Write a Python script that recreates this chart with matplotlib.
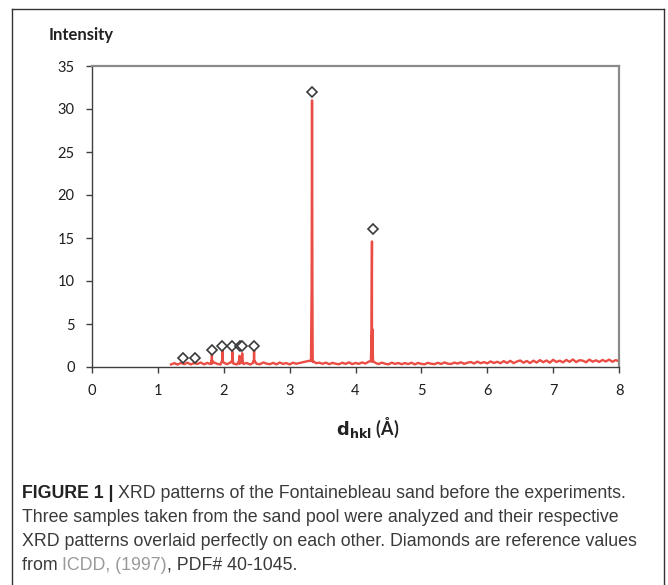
import numpy as np
import matplotlib
matplotlib.use("Agg")
import matplotlib.pyplot as plt
from matplotlib.lines import Line2D

# ---------------- data ----------------
# measured pattern: baseline sampled from d = 1.20 to 8.00 Å (step 0.05 Å)
base_start = 1.20
base_step = 0.05
baseline_I = [
    0.30, 0.45, 0.28, 0.48, 0.33, 0.50, 0.30, 0.46, 0.36, 0.52, 0.31,
    0.47, 0.34, 0.53, 0.37, 0.29, 0.49, 0.33, 0.52, 0.38, 0.30,
    0.51, 0.35, 0.47, 0.29, 0.49, 0.37, 0.32, 0.53, 0.39, 0.33,
    0.48, 0.31, 0.52, 0.36, 0.46, 0.30, 0.50, 0.38, 0.47, 0.56,
    0.64, 0.72, 0.58, 0.44, 0.50, 0.37, 0.51, 0.33, 0.48, 0.38,
    0.32, 0.50, 0.36, 0.54, 0.33, 0.47, 0.37, 0.53, 0.40, 0.62,
    0.60, 0.49, 0.34, 0.51, 0.38, 0.31, 0.50, 0.36, 0.47, 0.32,
    0.46, 0.34, 0.50, 0.30, 0.48, 0.36, 0.32, 0.49, 0.37, 0.34,
    0.49, 0.35, 0.53, 0.39, 0.35, 0.51, 0.40, 0.55, 0.37, 0.50,
    0.58, 0.41, 0.62, 0.44, 0.57, 0.42, 0.65, 0.46, 0.61, 0.44,
    0.68, 0.47, 0.72, 0.45, 0.64, 0.76, 0.50, 0.70, 0.46, 0.74,
    0.52, 0.80, 0.56, 0.76, 0.50, 0.84, 0.58, 0.74, 0.54, 0.82,
    0.60, 0.88, 0.57, 0.79, 0.74, 0.55, 0.86, 0.62, 0.78, 0.59,
    0.82, 0.64, 0.86, 0.61, 0.80, 0.66,
]
# measured peaks (d in Å, intensity)
peak_d = [1.82, 1.98, 2.13, 2.24, 2.28, 2.46, 3.34, 4.25]
peak_I = [1.4, 2.0, 1.8, 1.3, 1.6, 2.0, 31.0, 14.6]

# ICDD reference values (diamonds)
ref_d = [1.38, 1.56, 1.82, 1.98, 2.13, 2.24, 2.28, 2.46, 3.34, 4.26]
ref_I = [1.0, 1.0, 2.0, 2.4, 2.4, 2.4, 2.4, 2.4, 32.0, 16.0]

x_ticks = [0, 1, 2, 3, 4, 5, 6, 7, 8]
y_ticks = [0, 5, 10, 15, 20, 25, 30, 35]

caption_lines = [
    [("FIGURE 1 | ", "bold", "#222222"),
     ("XRD patterns of the Fontainebleau sand before the experiments.", "normal", "#3a3a3a")],
    [("Three samples taken from the sand pool were analyzed and their respective", "normal", "#3a3a3a")],
    [("XRD patterns overlaid perfectly on each other. Diamonds are reference values", "normal", "#3a3a3a")],
    [("from ", "normal", "#3a3a3a"), ("ICDD, (1997)", "normal", "#9a9a9a"),
     (", PDF# 40-1045.", "normal", "#3a3a3a")],
]

# ---------------- build pattern ----------------
bx = base_start + base_step * np.arange(len(baseline_I))
xs = list(bx)
ys = list(baseline_I)
for d, I in zip(peak_d, peak_I):
    w = 0.016 if I > 5 else 0.008
    xs += [d - w, d - w * 0.35, d, d + w * 0.35, d + w]
    ys += [0.7, I * 0.3, I, I * 0.3, 0.7]
order = np.argsort(xs)
xs = np.array(xs)[order]
ys = np.array(ys)[order]

# ---------------- figure ----------------
W, H = 668, 585
fig = plt.figure(figsize=(W / 100, H / 100), dpi=100)
fig.patch.set_facecolor("white")

# outer frame
frame_kw = dict(transform=fig.transFigure, color="#333333", lw=1.0)
fig.add_artist(Line2D([12 / W, 12 / W], [0, 1 - 9 / H], **frame_kw))
fig.add_artist(Line2D([12 / W, 664 / W], [1 - 9 / H, 1 - 9 / H], **frame_kw))
fig.add_artist(Line2D([664 / W, 664 / W], [0, 1 - 9 / H], **frame_kw))

ax_l, ax_r, ax_t, ax_b = 92, 619, 66, 367
ax = fig.add_axes([ax_l / W, 1 - ax_b / H, (ax_r - ax_l) / W, (ax_b - ax_t) / H])

ax.plot(xs, ys, color="#e8392f", lw=1.7, solid_joinstyle="round", alpha=0.9)
ax.plot(ref_d, ref_I, linestyle="none", marker="D", ms=5.0, mfc="white",
        mec="#3a3a3a", mew=1.2, zorder=5)

ax.set_xlim(0, 8)
ax.set_ylim(0, 35)
ax.set_xticks(x_ticks)
ax.set_yticks(y_ticks)

tick_font = dict(family=["Lato", "DejaVu Sans"], size=10.5)
ax.set_xticklabels([str(v) for v in x_ticks], fontdict=tick_font, color="#1e1e1e")
ax.set_yticklabels([str(v) for v in y_ticks], fontdict=tick_font, color="#1e1e1e")
ax.tick_params(direction="out", length=4.5, width=1.0, color="#404040", pad=8)

for s in ["left", "bottom"]:
    ax.spines[s].set_color("#404040")
    ax.spines[s].set_linewidth(1.0)
for s in ["top", "right"]:
    ax.spines[s].set_color("#8a8a8a")
    ax.spines[s].set_linewidth(1.6)

fig.text(49 / W, 1 - 35 / H, "Intensity", ha="left", va="center",
         family=["Lato", "DejaVu Sans"], weight="bold", size=12, color="#222222")
fig.text(368 / W, 1 - 428 / H, r"$\mathbf{d}_{\mathbf{hkl}}$ (Å)", ha="center", va="center",
         family=["Lato", "DejaVu Sans"], weight="bold", size=13, color="#222222")

# ---------------- caption ----------------
fig.canvas.draw()
renderer = fig.canvas.get_renderer()
cap_family = ["Liberation Sans", "DejaVu Sans"]
cap_size = 12.8
x0 = 22
line_y = [493, 517, 541, 565]
for parts, ypix in zip(caption_lines, line_y):
    xpix = x0
    for txt, wt, col in parts:
        t = fig.text(xpix / W, 1 - ypix / H, txt, ha="left", va="center",
                     family=cap_family, weight=wt, size=cap_size, color=col)
        bb = t.get_window_extent(renderer=renderer)
        xpix += bb.width

fig.savefig("out.png", dpi=100)
